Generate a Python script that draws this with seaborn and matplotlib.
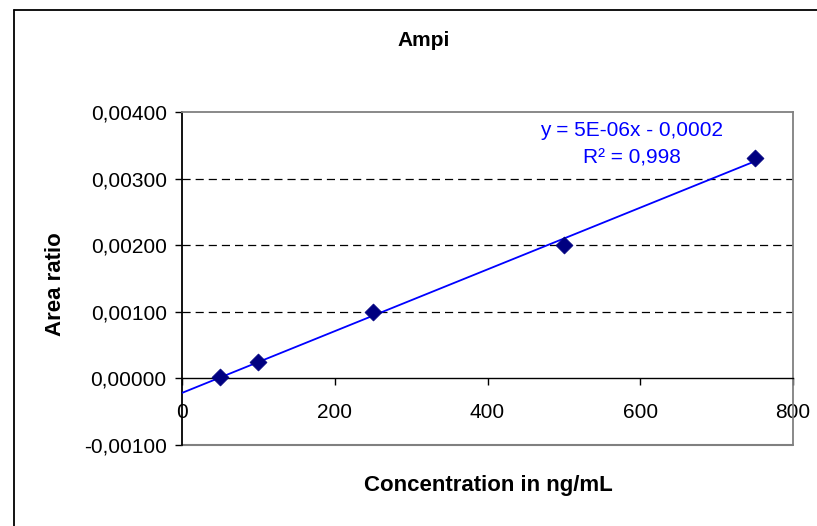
import numpy as np
import pandas as pd
import matplotlib
matplotlib.use("Agg")
import matplotlib.pyplot as plt
from matplotlib.lines import Line2D
import seaborn as sns

# ---- data ----
concentration = [50, 100, 250, 500, 750]
area_ratio = [0.00002, 0.00024, 0.00099, 0.00200, 0.00331]
y_ticks = [-0.001, 0.0, 0.001, 0.002, 0.003, 0.004]
y_tick_labels = ["-0,00100", "0,00000", "0,00100", "0,00200", "0,00300", "0,00400"]
x_ticks = [0, 200, 400, 600, 800]
x_tick_labels = ["0", "200", "400", "600", "800"]
title = "Ampi"
x_label = "Concentration in ng/mL"
y_label = "Area ratio"
eq_text = "y = 5E-06x - 0,0002"
r2_text = "R² = 0,998"

sns.set_theme(style="white")
plt.rcParams["font.family"] = ["Liberation Sans", "DejaVu Sans"]
plt.rcParams["text.color"] = "black"
plt.rcParams["axes.labelcolor"] = "black"
plt.rcParams["xtick.color"] = "black"
plt.rcParams["ytick.color"] = "black"

W, H = 817, 526
fig = plt.figure(figsize=(W / 100, H / 100), dpi=100)
ax = fig.add_axes([182 / W, 1 - 445 / H, (793 - 182) / W, (445 - 112) / H])

df = pd.DataFrame({"x": concentration, "y": area_ratio})

# trendline (least-squares fit, drawn from x=0 to last point like Excel)
slope, intercept = np.polyfit(df["x"], df["y"], 1)
fit_x = np.array([0, df["x"].max()])
fit_df = pd.DataFrame({"x": fit_x, "y": slope * fit_x + intercept})
sns.lineplot(data=fit_df, x="x", y="y", ax=ax, color="#0000FF", linewidth=1.3, zorder=3)

sns.scatterplot(data=df, x="x", y="y", ax=ax, marker="D", s=75, color="#000080",
                edgecolor="#000080", linewidth=0.5, zorder=4)

ax.set_xlim(0, 800)
ax.set_ylim(-0.001, 0.004)

# gridlines
for yv in y_ticks[2:5]:
    ax.axhline(yv, color="black", linewidth=0.9, linestyle=(0, (6.5, 4)), zorder=1)

# plot-area border (gray) and axes
for side in ["top", "right"]:
    ax.spines[side].set_color("#808080")
    ax.spines[side].set_linewidth(1.3)
ax.spines["left"].set_color("black")
ax.spines["left"].set_linewidth(1.3)
ax.spines["bottom"].set_position(("data", 0))
ax.spines["bottom"].set_color("black")
ax.spines["bottom"].set_linewidth(1.0)
ax.axhline(-0.001, color="#808080", linewidth=1.5, zorder=2, clip_on=False)

ax.set_yticks(y_ticks)
ax.set_yticklabels(y_tick_labels)
ax.set_xticks(x_ticks)
ax.set_xticklabels(x_tick_labels)
ax.tick_params(axis="y", direction="out", length=5, width=1, color="black",
               labelcolor="black", labelsize=15, pad=6, left=True)
ax.tick_params(axis="x", direction="out", length=5, width=1, color="black",
               labelcolor="black", labelsize=15, pad=13, bottom=True)

ax.set_xlabel("")
ax.set_ylabel("")

fig.text(424 / W, 1 - 40 / H, title, ha="center", va="center", fontsize=15,
         fontweight="bold", color="black")
fig.text(488 / W, 1 - 486 / H, x_label, ha="center", va="center", fontsize=16,
         fontweight="bold", color="black")
fig.text(56 / W, 1 - 284 / H, y_label, ha="center", va="center", fontsize=16,
         fontweight="bold", rotation=90, color="black")

fig.text(632 / W, 1 - 131 / H, eq_text, ha="center", va="center", fontsize=15, color="#0000FF")
fig.text(632 / W, 1 - 158 / H, r2_text, ha="center", va="center", fontsize=15, color="#0000FF")

# outer chart border
fig.add_artist(Line2D([14 / W, 14 / W], [0, 1 - 10 / H], transform=fig.transFigure,
                      color="black", linewidth=1.3))
fig.add_artist(Line2D([14 / W, 1], [1 - 10 / H, 1 - 10 / H], transform=fig.transFigure,
                      color="black", linewidth=1.3))

fig.savefig("out.png", dpi=100, facecolor="white")
